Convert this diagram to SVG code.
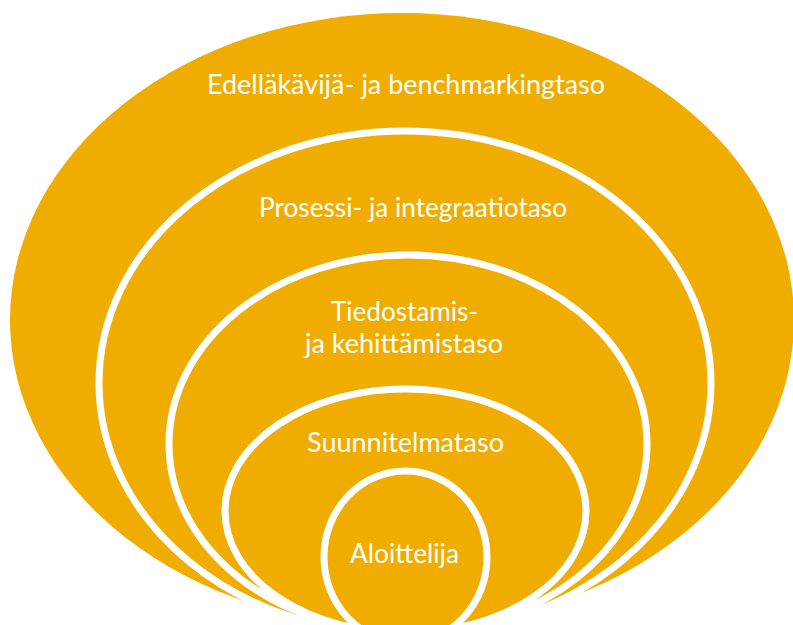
<svg xmlns="http://www.w3.org/2000/svg" width="793" height="625" viewBox="0 0 793 625">
  <style>
    .level { fill: #F0AD00; stroke: #FFFFFF; stroke-width: 7; }
    .outer { fill: #F0AD00; stroke: none; }
    .label { fill: #FFFFFF; font-family: Lato, "Open Sans", "Liberation Sans", sans-serif; font-size: 26px; text-anchor: middle; }
  </style>
  <rect width="793" height="625" fill="#FFFFFF"/>

  <!-- outermost level: plain filled ellipse, no outline -->
  <g id="level-5">
    <ellipse class="outer" cx="402" cy="320" rx="392" ry="307"/>
    <text class="label" x="406" y="94" textLength="398" lengthAdjust="spacingAndGlyphs">Edelläkävijä- ja benchmarkingtaso</text>
  </g>

  <g id="level-4">
    <ellipse class="level" cx="405" cy="383" rx="306" ry="252"/>
    <text class="label" x="413" y="217" textLength="308" lengthAdjust="spacingAndGlyphs">Prosessi- ja integraatiotaso</text>
  </g>

  <g id="level-3">
    <ellipse class="level" cx="408" cy="444" rx="239" ry="189"/>
    <text class="label" x="404.5" y="321" textLength="147" lengthAdjust="spacingAndGlyphs">Tiedostamis-</text>
    <text class="label" x="404" y="353" textLength="198" lengthAdjust="spacingAndGlyphs">ja kehittämistaso</text>
  </g>

  <g id="level-2">
    <ellipse class="level" cx="405.5" cy="511" rx="180.5" ry="122"/>
    <text class="label" x="405.5" y="452" textLength="197" lengthAdjust="spacingAndGlyphs">Suunnitelmataso</text>
  </g>

  <g id="level-1">
    <ellipse class="level" cx="405.5" cy="557" rx="81.5" ry="86"/>
    <text class="label" x="404.5" y="563" textLength="109" lengthAdjust="spacingAndGlyphs">Aloittelija</text>
  </g>

  <g id="connectors"/>
</svg>
